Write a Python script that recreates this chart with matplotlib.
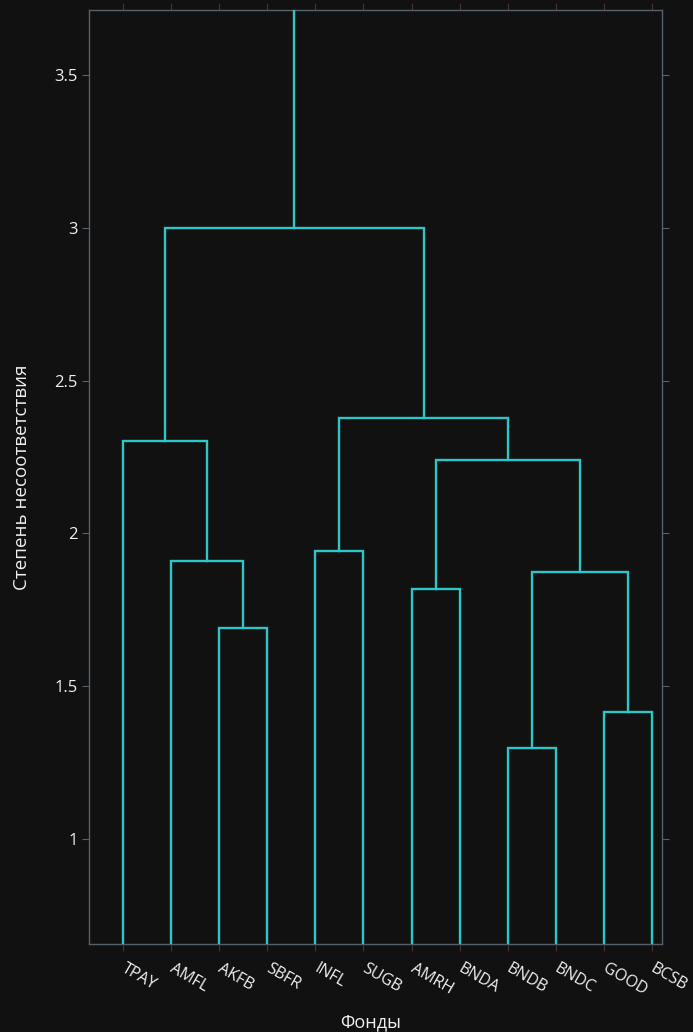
import matplotlib
matplotlib.use("Agg")
import matplotlib.pyplot as plt

leaves = ["TPAY", "AMFL", "AKFB", "SBFR", "INFL", "SUGB",
          "AMRH", "BNDA", "BNDB", "BNDC", "GOOD", "BCSB"]
# merges: (left node, right node, height); nodes 0..11 are leaves, 12.. are merges
merges = [
    (2, 3, 1.690),    # 12 AKFB-SBFR
    (1, 12, 1.909),   # 13
    (0, 13, 2.301),   # 14
    (4, 5, 1.944),    # 15 INFL-SUGB
    (6, 7, 1.817),    # 16 AMRH-BNDA
    (8, 9, 1.297),    # 17 BNDB-BNDC
    (10, 11, 1.415),  # 18 GOOD-BCSB
    (17, 18, 1.873),  # 19
    (16, 19, 2.239),  # 20
    (15, 20, 2.376),  # 21
    (14, 21, 3.000),  # 22
]
root_top = 4.0
y_ticks = [1, 1.5, 2, 2.5, 3, 3.5]
y_ticklabels = ["1", "1.5", "2", "2.5", "3", "3.5"]

bg = "#111111"
line_c = "#2ec6c6"
frame_c = "#56606b"
text_c = "#f0f0f0"
fam = ["Open Sans", "DejaVu Sans"]

fig = plt.figure(figsize=(6.93, 10.32), dpi=100, facecolor=bg)
ax = fig.add_axes([89/693, 1-944/1032, (662-89)/693, (944-10)/1032])
ax.set_facecolor(bg)

xpos = {i: 5 + 10*i for i in range(len(leaves))}
ypos = {i: 0.0 for i in range(len(leaves))}
for k, (a, b, h) in enumerate(merges):
    n = len(leaves) + k
    xa, xb = xpos[a], xpos[b]
    ax.plot([xa, xa, xb, xb], [ypos[a], h, h, ypos[b]], color=line_c, lw=1.7,
            solid_joinstyle="miter", zorder=3)
    xpos[n] = (xa + xb) / 2
    ypos[n] = h
root = len(leaves) + len(merges) - 1
ax.plot([xpos[root], xpos[root]], [ypos[root], root_top], color=line_c, lw=1.7, zorder=3)

ax.set_xlim(-2.07, 117.08)
ax.set_ylim(0.657, 3.712)
ax.set_xticks([xpos[i] for i in range(len(leaves))])
ax.set_xticklabels(leaves, rotation=-30, ha="left", va="center",
                   rotation_mode="anchor", family=fam, fontsize=11.5, color=text_c,
                   fontweight="medium")
ax.set_yticks(y_ticks)
ax.set_yticklabels(y_ticklabels, family=fam, fontsize=12, color=text_c,
                   fontweight="medium")

for s in ax.spines.values():
    s.set_color(frame_c)
    s.set_linewidth(1.0)

ax.tick_params(axis="y", direction="out", length=5, width=0.8, color=frame_c,
               left=True, right=True, pad=3)
ax.tick_params(axis="x", direction="out", length=5, width=0.8, color="#4a3040",
               bottom=True, top=True, pad=12)
for t in ax.xaxis.get_major_ticks():
    t.tick2line.set_color(frame_c)

ax.set_xlabel("Фонды", family=fam, fontsize=13, color=text_c, va="center", ha="center")
ax.xaxis.set_label_coords((371 - 89) / 573, (944 - 1022) / 934)
ax.set_ylabel("Степень несоответствия", family=fam, fontsize=13.5, color=text_c,
              va="center", ha="center")
ax.yaxis.set_label_coords((22 - 89) / 573, (944 - 477) / 934)

fig.savefig("out.png", dpi=100, facecolor=bg)
